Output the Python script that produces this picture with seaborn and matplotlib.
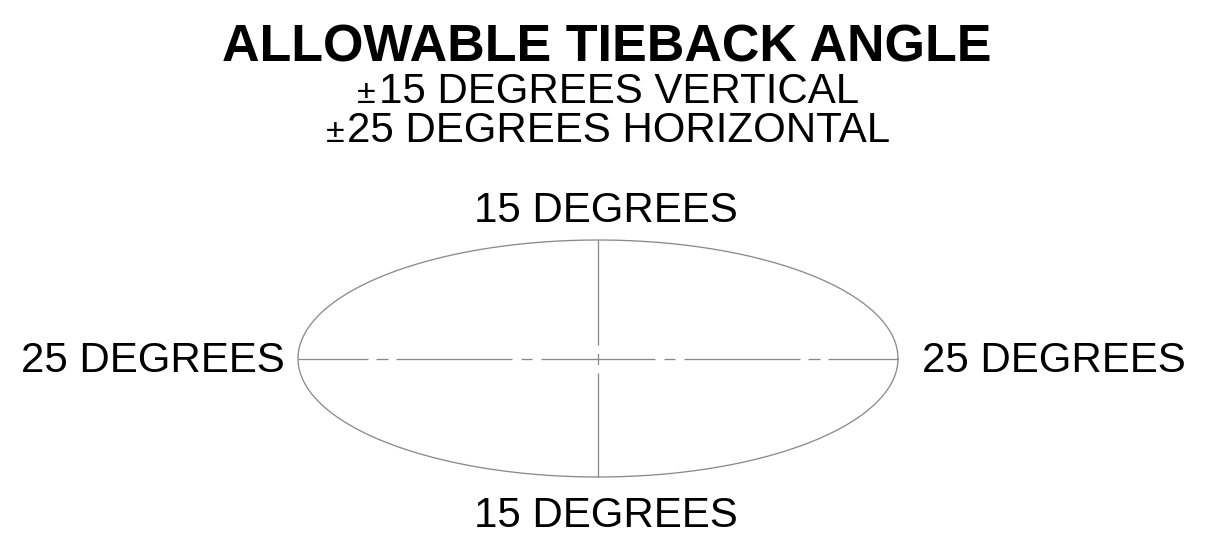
import numpy as np
import matplotlib
matplotlib.use("Agg")
import matplotlib.pyplot as plt
import matplotlib.transforms as mtransforms
import seaborn as sns

# limits of the allowable angle (degrees)
horizontal_limit = 25
vertical_limit = 15

title = "ALLOWABLE TIEBACK ANGLE"
subtitle_values = [15, 25]
subtitle_words = ["DEGREES VERTICAL", "DEGREES HORIZONTAL"]
side_label = f"{horizontal_limit} DEGREES"
top_label = f"{vertical_limit} DEGREES"

W, H = 1205, 557
DPI = 72  # 1 pt == 1 px

sns.set_theme(style="white")
plt.rcParams["font.family"] = ["Liberation Sans", "DejaVu Sans"]
plt.rcParams["lines.scale_dashes"] = False

fig = plt.figure(figsize=(W / DPI, H / DPI), dpi=DPI)
fig.patch.set_facecolor("white")

# axes sized so that the ellipse spans 298..898 px and 240..477 px
ax = fig.add_axes([298 / W, (H - 477) / H, 600 / W, 237 / H])
ax.set_xlim(-horizontal_limit, horizontal_limit)
ax.set_ylim(-vertical_limit, vertical_limit)
ax.axis("off")

line_color = "#8a8a8a"
lw = 1.3

t = np.linspace(0, 2 * np.pi, 400)
sns.lineplot(x=horizontal_limit * np.cos(t), y=vertical_limit * np.sin(t),
             sort=False, estimator=None, color=line_color, linewidth=lw, ax=ax)

# centre lines, dash-dot drawn outward from the centre
h_dash = (0, (57, 9, 11, 9, 116, 8, 12, 8, 200, 1))
v_dash = (0, (5.5, 8.5, 200, 1))
for s in (1, -1):
    ax.plot([0, s * horizontal_limit], [0, 0], color=line_color, lw=lw, linestyle=h_dash)
    ax.plot([0, 0], [0, s * vertical_limit], color=line_color, lw=lw, linestyle=v_dash)
for ln in ax.lines:
    ln.set_clip_on(False)

px = mtransforms.IdentityTransform()


def put(x, y_top, s, **kw):
    return fig.text(x, H - y_top, s, transform=px, color="black", va="baseline", **kw)


put(607, 62, title, ha="center", fontsize=52, fontweight="bold")

put(606, 222, top_label, ha="center", fontsize=42)
put(606, 527, top_label, ha="center", fontsize=42)
put(285, 372, side_label, ha="right", fontsize=42)
put(922, 372, side_label, ha="left", fontsize=42)

# subtitle lines with a small +/- sign in front, the whole group centred
pm_items = []
for val, words, base in zip(subtitle_values, subtitle_words, [103, 142]):
    main = put(0, base, f"{val} {words}", ha="left", fontsize=42)
    pm = put(0, base, "\u00b1", ha="left", fontsize=34)
    pm_items.append((main, pm))

fig.canvas.draw()
renderer = fig.canvas.get_renderer()
gap = 3
for main, pm in pm_items:
    wm = main.get_window_extent(renderer).width
    wp = pm.get_window_extent(renderer).width
    x0 = 608 - (wm + wp + gap) / 2
    pm.set_x(x0)
    main.set_x(x0 + wp + gap)

fig.savefig("out.png", dpi=DPI, facecolor="white")
